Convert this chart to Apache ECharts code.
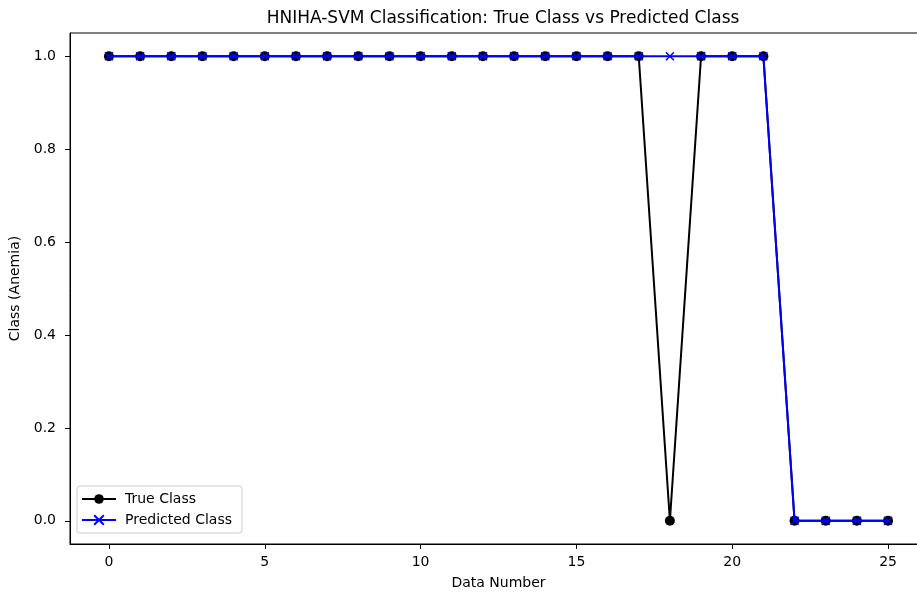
<!DOCTYPE html>
<html><head><meta charset="utf-8">
<script src="https://cdn.jsdelivr.net/npm/echarts@6/dist/echarts.min.js"></script>
<style>html,body{margin:0;padding:0;background:#fff}#c{width:917px;height:594px}</style>
</head><body><div id="c"></div>
<script>
const dataNumbers = [0,1,2,3,4,5,6,7,8,9,10,11,12,13,14,15,16,17,18,19,20,21,22,23,24,25];
const trueClass = [1,1,1,1,1,1,1,1,1,1,1,1,1,1,1,1,1,1,0,1,1,1,0,0,0,0];
const predictedClass = [1,1,1,1,1,1,1,1,1,1,1,1,1,1,1,1,1,1,1,1,1,1,0,0,0,0];
const xTicks = [0,5,10,15,20,25];
const yTicks = [0,0.2,0.4,0.6,0.8,1.0];

const font = 'DejaVu Sans';
const chart = echarts.init(document.getElementById('c'), null, {renderer:'canvas'});
chart.setOption({
  animation:false,
  backgroundColor:'#fff',
  title:{text:'HNIHA-SVM Classification: True Class vs Predicted Class', left:498, top:5, textAlign:'center',
    textStyle:{fontFamily:font, fontSize:17, fontWeight:'normal', color:'#000'}},
  grid:{left:70, top:33, right:-10, bottom:50, show:true, borderColor:'#000', borderWidth:1,
    containLabel:false, outerBoundsMode:'none'},
  legend:{orient:'vertical', left:77, top:486, itemWidth:34, itemHeight:12, itemGap:7,
    padding:[6,10,6,4], backgroundColor:'rgba(255,255,255,0.8)', borderColor:'#ccc', borderWidth:1, borderRadius:3,
    textStyle:{fontFamily:font, fontSize:14, color:'#000', padding:[0,0,0,4]},
    data:['True Class','Predicted Class']},
  xAxis:{type:'value', min:-1.25, max:26.25,
    name:'Data Number', nameLocation:'middle', nameGap:32, nameTextStyle:{fontFamily:font, fontSize:14, color:'#000'},
    axisLine:{show:true, onZero:false, lineStyle:{color:'#000', width:1}},
    axisTick:{show:true, inside:false, length:5, customValues:xTicks, lineStyle:{color:'#000', width:1}},
    axisLabel:{customValues:xTicks, fontFamily:font, fontSize:14, color:'#000', margin:11},
    splitLine:{show:false}},
  yAxis:{type:'value', min:-0.05, max:1.05,
    name:'Class (Anemia)', nameLocation:'middle', nameGap:46, nameRotate:90, nameTextStyle:{fontFamily:font, fontSize:14, color:'#000'},
    axisLine:{show:true, onZero:false, lineStyle:{color:'#000', width:1}},
    axisTick:{show:true, inside:false, length:5, customValues:yTicks, lineStyle:{color:'#000', width:1}},
    axisLabel:{customValues:yTicks, fontFamily:font, fontSize:14, color:'#000', margin:14, formatter:v=>Number(v).toFixed(1)},
    splitLine:{show:false}},
  series:[
    {name:'True Class', type:'line', data:dataNumbers.map((x,i)=>[x,trueClass[i]]),
      symbol:'circle', symbolSize:10, showAllSymbol:true,
      lineStyle:{color:'#000', width:2}, itemStyle:{color:'#000'}, z:2},
    {name:'Predicted Class', type:'line', data:dataNumbers.map((x,i)=>[x,predictedClass[i]]),
      symbol:'path://M0,0L10,10M10,0L0,10', symbolSize:8, showAllSymbol:true,
      lineStyle:{color:'#0000ff', width:2}, itemStyle:{color:'#0000ff', borderColor:'#0000ff', borderWidth:1.5}, z:3}
  ]
});
</script></body></html>
